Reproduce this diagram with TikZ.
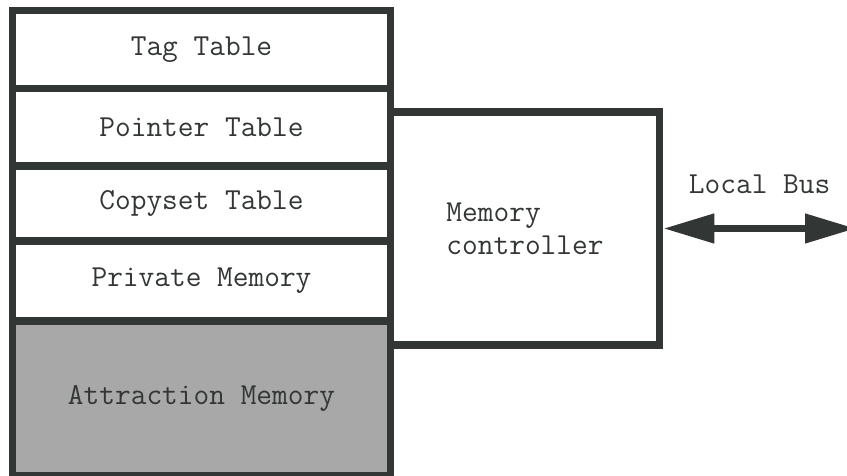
\documentclass[tikz,border=0pt]{standalone}
\usepackage{fontspec}
\usetikzlibrary{arrows.meta, positioning}
\definecolor{LineGrey}{RGB}{50, 54, 52}
\definecolor{AttrGrey}{RGB}{168, 168, 168}
\tikzset{
  memblock/.style={rectangle, draw=LineGrey, line width=7.5pt, outer sep=0pt, inner sep=0pt,
    minimum width=378pt, text=LineGrey},
  busline/.style={LineGrey, line width=7.5pt,
    {Triangle[length=51pt, width=28pt]}-{Triangle[length=51pt, width=28pt]}}
}

\begin{document}
\begin{tikzpicture}[x=1pt, y=1pt, font=\ttfamily\fontsize{30.5}{33}\selectfont]
\useasboundingbox (0,0) rectangle (847,476);
\node[memblock, minimum height=78pt] (tag) at (201.5,426.5) {Tag Table};
\foreach \n/\t/\h/\p in {pointer/Pointer Table/77.5/tag, copyset/Copyset Table/75/pointer, private/Private Memory/80/copyset} {
  \node[memblock, minimum height=\h pt, below=0pt of \p] (\n) {\t};
}
\node[memblock, fill=AttrGrey, minimum height=154.75pt, below=0pt of private] (attraction) {Attraction Memory};
\node[memblock, minimum width=269pt, minimum height=233pt, align=left] (ctrl) at (525,247.5) {Memory\\controller};
\coordinate (busend) at (856,247.5);
\draw[busline] ([xshift=3.75pt]ctrl.east) -- node[above=31.5pt, inner sep=0pt, text=LineGrey] {Local Bus} (busend);
\end{tikzpicture}
\end{document}
